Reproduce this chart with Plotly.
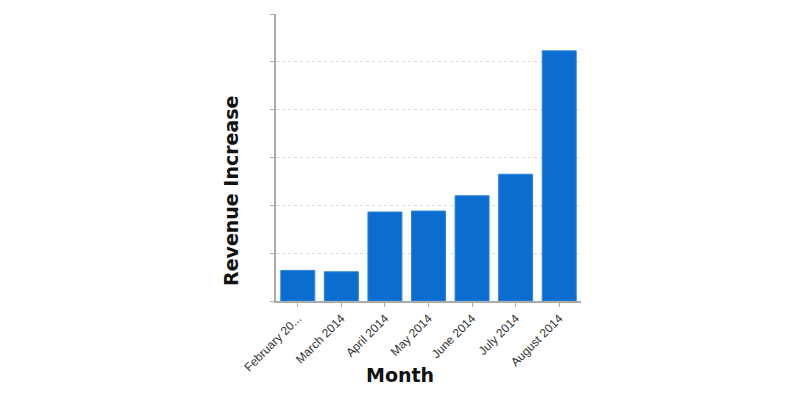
import plotly.graph_objects as go

months = ["February 20...", "March 2014", "April 2014", "May 2014", "June 2014", "July 2014", "August 2014"]
revenue_increase = [0.64, 0.61, 1.86, 1.88, 2.20, 2.65, 5.23]
y_ticks = [0, 1, 2, 3, 4, 5, 6]

# page body has an 8px margin, so compensate
L, R, T, B = 268, 227, 6, 107
PW = 800 - L - R
PH = 400 - T - B

fig = go.Figure()
fig.add_trace(go.Bar(
    x=months, y=revenue_increase,
    marker=dict(color="#0b6dcf", line=dict(color="#2f84dc", width=1)),
    width=0.78,
))

fig.update_layout(
    width=800, height=400,
    margin=dict(l=L, r=R, t=T, b=B),
    paper_bgcolor="white", plot_bgcolor="white",
    showlegend=False,
    font=dict(family="Liberation Sans, Arial", color="#333"),
    annotations=[
        dict(text="<b>Month</b>", xref="paper", yref="paper", x=(392 - L) / PW, y=-(368 - 294) / PH,
             xanchor="center", yanchor="middle", showarrow=False,
             font=dict(family="DejaVu Sans", size=19, color="#111")),
        dict(text="<b>Revenue Increase</b>", xref="paper", yref="paper", x=(223 - L) / PW, y=(294 - 184) / PH,
             xanchor="center", yanchor="middle", showarrow=False, textangle=-90,
             font=dict(family="DejaVu Sans", size=19, color="#111")),
    ],
)
fig.update_xaxes(
    showline=True, linecolor="#aaa", linewidth=1.5,
    ticks="outside", ticklen=4, tickcolor="#aaa",
    tickangle=-45, tickfont=dict(size=12, color="#333"),
    showgrid=False, automargin=False,
)
fig.update_yaxes(
    range=[0, 6], tickvals=y_ticks, ticktext=[""] * len(y_ticks),
    showline=True, linecolor="#aaa", linewidth=1.5,
    ticks="outside", ticklen=4, tickcolor="#aaa",
    showgrid=True, gridcolor="#d8d8d8", griddash="dot", gridwidth=1,
    zeroline=False, automargin=False,
)

fig.write_html("out.html")
